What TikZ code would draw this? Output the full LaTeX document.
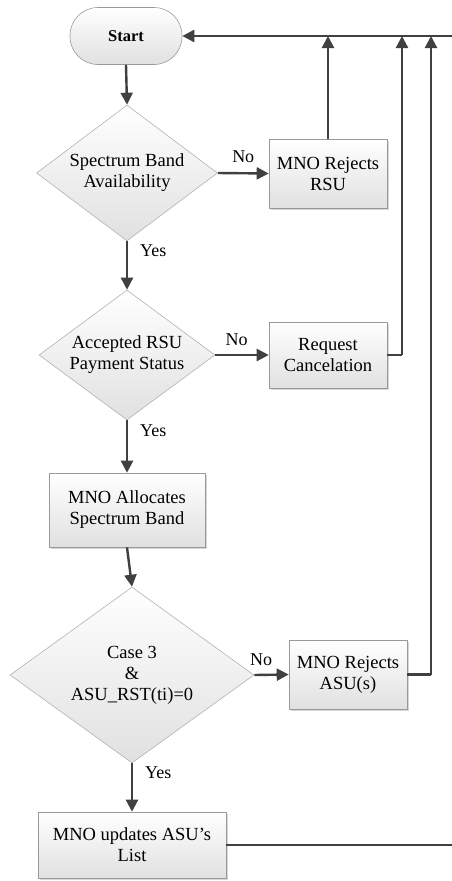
\documentclass[tikz,border=0pt]{standalone}
\usepackage{fontspec}
\setmainfont{Liberation Serif}
\usetikzlibrary{shapes.geometric,arrows.meta,shadows,positioning}

\tikzset{
  flowline/.style={draw=black!75, line width=2.4pt},
  flowarrow/.style={flowline, -{Triangle[length=12pt,width=12pt]}},
  boxshade/.style={top color=white, bottom color=black!12, draw=black!40, line width=0.6pt},
  procbox/.style={rectangle, boxshade, align=center, inner sep=0pt,
    drop shadow={shadow xshift=1.8pt, shadow yshift=-1.8pt, fill=black!35, opacity=0.45}},
  decision/.style={diamond, boxshade, draw=black!30, align=center, inner sep=0pt, aspect=1.3},
  terminal/.style={rectangle, rounded corners=28pt, boxshade, draw=black!40, align=center,
    minimum width=112pt, minimum height=57pt},
  lbl/.style={font=\fontsize{18}{20}\selectfont, inner sep=0pt},
}

\begin{document}
\begin{tikzpicture}[x=1pt, y=-1pt, font=\fontsize{18.5}{21}\selectfont]
\useasboundingbox (0,0) rectangle (452,881);

% nodes
\node[terminal] (start) at (126,36) {\fontsize{16.5}{19}\selectfont\bfseries Start};

\node[decision, minimum width=181pt, minimum height=136pt] (d1) at (127,173)
  {Spectrum Band\\Availability};
\node[procbox, minimum width=118pt, minimum height=69pt] (b1) at (328,173.5)
  {MNO Rejects\\RSU};

\node[decision, minimum width=176pt, minimum height=130pt] (d2) at (127,355)
  {Accepted RSU\\Payment Status};
\node[procbox, minimum width=118pt, minimum height=66pt] (b2) at (328,355)
  {Request\\Cancelation};

\node[procbox, minimum width=156pt, minimum height=74pt] (b3) at (127,510)
  {MNO Allocates\\Spectrum Band};

\node[decision, minimum width=244pt, minimum height=176pt] (d3) at (132,675)
  {Case 3\\\&\\ASU\_RST(ti)=0};
\node[procbox, minimum width=118pt, minimum height=69pt] (b4) at (348,674.5)
  {MNO Rejects\\ASU(s)};

\node[procbox, minimum width=188pt, minimum height=66pt] (b5) at (132,845)
  {MNO updates ASU’s\\List};

% loop-back rail coordinates
\coordinate (railtop) at (452,36);
\coordinate (railbot) at (452,845);
\coordinate (c2) at (402,355);
\coordinate (c4) at (431,674.5);

% main flow
\draw[flowarrow] (start.south) -- (d1.north);
\draw[flowarrow] (d1.east) -- node[lbl, above=9pt] {No} (b1.west);
\draw[flowarrow] (d1.south) -- node[lbl, right=12pt, pos=0.2] {Yes} (d2.north);
\draw[flowarrow] (d2.east) -- node[lbl, above=8pt, pos=0.4] {No} (b2.west);
\draw[flowarrow] (d2.south) -- node[lbl, right=12pt, pos=0.2] {Yes} (b3.north);
\draw[flowarrow] (b3.south) -- (d3.north);
\draw[flowarrow] (d3.east) -- node[lbl, above=8pt, pos=0.2] {No} (b4.west);
\draw[flowarrow] (d3.south) -- node[lbl, right=12pt, pos=0.2] {Yes} (b5.north);

% returns to start
\draw[flowarrow] (railtop) -- (start.east);
\draw[flowarrow] (b1.north) -- (b1.north |- railtop);
\draw[flowline] (b2.east) -- (c2);
\draw[flowarrow] (c2) -- (c2 |- railtop);
\draw[flowline] (b4.east) -- (c4);
\draw[flowarrow] (c4) -- (c4 |- railtop);
\draw[flowline] (b5.east) -- (railbot);
\end{tikzpicture}
\end{document}
